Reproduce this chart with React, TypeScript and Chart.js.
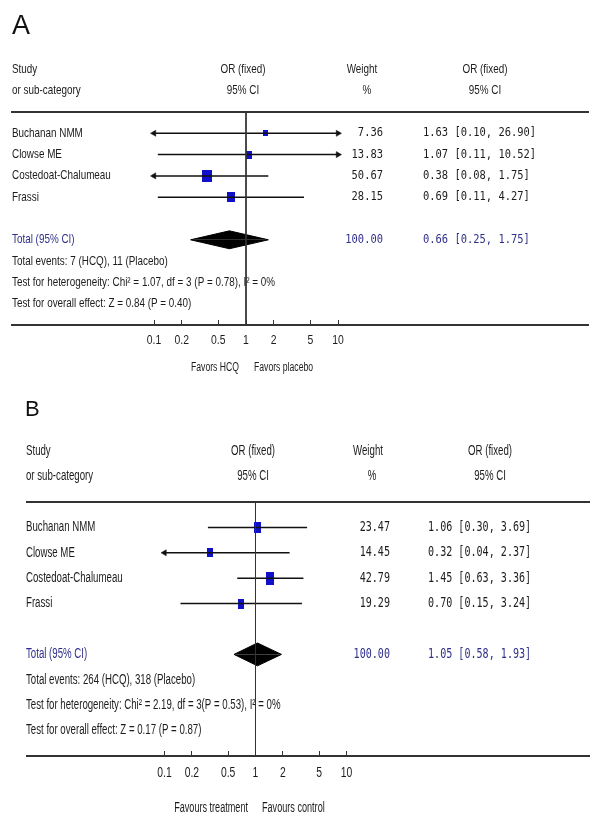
import React, { useEffect, useRef } from "react";
import { Chart, registerables } from "chart.js";

Chart.register(...registerables);

// ---------------- DATA ----------------
const STUDIES = ["Buchanan NMM", "Clowse ME", "Costedoat-Chalumeau", "Frassi"];

const A_OR = [1.63, 1.07, 0.38, 0.69];
const A_LO = [0.1, 0.11, 0.08, 0.11];
const A_HI = [26.9, 10.52, 1.75, 4.27];
const A_WEIGHT = [7.36, 13.83, 50.67, 28.15];
const A_TOTAL = [0.66, 0.25, 1.75]; // estimate, lower, upper
const A_TOTAL_WEIGHT = 100.0;
const A_EVENTS = "Total events: 7 (HCQ), 11 (Placebo)";
const A_HET = "Test for heterogeneity: Chi\u00B2 = 1.07, df = 3 (P = 0.78), I\u00B2 = 0%";
const A_OVERALL = "Test for overall effect: Z = 0.84 (P = 0.40)";
const A_FAVORS = ["Favors HCQ", "Favors placebo"];

const B_OR = [1.06, 0.32, 1.45, 0.7];
const B_LO = [0.3, 0.04, 0.63, 0.15];
const B_HI = [3.69, 2.37, 3.36, 3.24];
const B_WEIGHT = [23.47, 14.45, 42.79, 19.29];
const B_TOTAL = [1.05, 0.58, 1.93];
const B_TOTAL_WEIGHT = 100.0;
const B_EVENTS = "Total events: 264 (HCQ), 318 (Placebo)";
const B_HET = "Test for heterogeneity: Chi\u00B2 = 2.19, df = 3(P = 0.53), I\u00B2 = 0%";
const B_OVERALL = "Test for overall effect: Z = 0.17 (P = 0.87)";
const B_FAVORS = ["Favours treatment", "Favours control"];

const TICKS = [0.1, 0.2, 0.5, 1, 2, 5, 10];
const TICK_LABELS = ["0.1", "0.2", "0.5", "1", "2", "5", "10"];
const AXIS_LO = 0.1;
const AXIS_HI = 10;

const HEADER_LEFT = ["Study", "or sub-category"];
const HEADER_OR = ["OR (fixed)", "95% CI"];
const HEADER_W = ["Weight", "%"];
const TOTAL_LABEL = "Total (95% CI)";

// ---------------- STYLE ----------------
const SANS = '"Liberation Sans", Arial, sans-serif';
const MONO = '"DejaVu Sans Mono", "Liberation Mono", monospace';
const TEXT = "#1c1c1c";
const BLUE_TEXT = "#30308c";
const SQUARE = "#1010c8";
const LINE = "#111";

const TOTAL_ROW = 5;

type Spec = {
  letter: string;
  top: number;
  height: number;
  left: number;
  right: number;
  one: number;
  decade: number;
  padTop: number;
  axisH: number;
  padBottom: number;
  or: number[];
  lo: number[];
  hi: number[];
  weight: number[];
  total: number[];
  totalWeight: number;
  events: string;
  het: string;
  overall: string;
  favors: string[];
  letterX: number;
  letterY: number;
  letterSize: number;
  labelX: number;
  orC: number;
  wC: number;
  pctC: number;
  ciC: number;
  wRight: number;
  ciLeft: number;
  sansSize: number;
  sansSX: number;
  monoSize: number;
  monoSX: number;
  tickDY: number;
  tickSize: number;
  tickSX: number;
  favDY: number;
  favSize: number;
  favSX: number;
  favRight: number;
  favLeft: number;
  sqBase: number;
  sqK: number;
  sqAspect: number;
  diamondH: number;
};

const SPEC_A: Spec = {
  letter: "A",
  top: 0,
  height: 380,
  left: 12,
  right: 588,
  one: 246,
  decade: 92,
  padTop: 112,
  axisH: 40,
  padBottom: 15,
  or: A_OR,
  lo: A_LO,
  hi: A_HI,
  weight: A_WEIGHT,
  total: A_TOTAL,
  totalWeight: A_TOTAL_WEIGHT,
  events: A_EVENTS,
  het: A_HET,
  overall: A_OVERALL,
  favors: A_FAVORS,
  letterX: 12,
  letterY: 27,
  letterSize: 27,
  labelX: 12,
  orC: 243,
  wC: 362,
  pctC: 367,
  ciC: 485,
  wRight: 383,
  ciLeft: 423,
  sansSize: 13,
  sansSX: 0.76,
  monoSize: 12,
  monoSX: 0.87,
  tickDY: 15,
  tickSize: 13,
  tickSX: 0.8,
  favDY: 43,
  favSize: 12,
  favSX: 0.72,
  favRight: 239,
  favLeft: 254,
  sqBase: 2.2,
  sqK: 1.05,
  sqAspect: 1.25,
  diamondH: 0.42,
};

const SPEC_B: Spec = {
  letter: "B",
  top: 380,
  height: 439,
  left: 27,
  right: 589,
  one: 255.5,
  decade: 91,
  padTop: 122,
  axisH: 50,
  padBottom: 13,
  or: B_OR,
  lo: B_LO,
  hi: B_HI,
  weight: B_WEIGHT,
  total: B_TOTAL,
  totalWeight: B_TOTAL_WEIGHT,
  events: B_EVENTS,
  het: B_HET,
  overall: B_OVERALL,
  favors: B_FAVORS,
  letterX: 25,
  letterY: 30,
  letterSize: 22,
  labelX: 26,
  orC: 253,
  wC: 368,
  pctC: 372,
  ciC: 490,
  wRight: 390,
  ciLeft: 428,
  sansSize: 14,
  sansSX: 0.69,
  monoSize: 14,
  monoSX: 0.72,
  tickDY: 17,
  tickSize: 14,
  tickSX: 0.74,
  favDY: 52,
  favSize: 14,
  favSX: 0.65,
  favRight: 248,
  favLeft: 262,
  sqBase: 2,
  sqK: 0.95,
  sqAspect: 1.6,
  diamondH: 0.45,
};

function makeSquare(w: number, h: number, color: string) {
  const c = document.createElement("canvas");
  c.width = Math.max(2, Math.round(w));
  c.height = Math.max(2, Math.round(h));
  const g = c.getContext("2d")!;
  g.fillStyle = color;
  g.fillRect(0, 0, c.width, c.height);
  return c;
}

function drawText(
  ctx: CanvasRenderingContext2D,
  s: string,
  x: number,
  y: number,
  size: number,
  family: string,
  sx: number,
  align: CanvasTextAlign,
  color: string
) {
  ctx.save();
  ctx.font = `${size}px ${family}`;
  ctx.fillStyle = color;
  ctx.textBaseline = "middle";
  ctx.textAlign = align;
  ctx.translate(x, y);
  ctx.scale(sx, 1);
  ctx.fillText(s, 0, 0);
  ctx.restore();
}

const fmtCI = (o: number, l: number, h: number) =>
  `${o.toFixed(2)} [${l.toFixed(2)}, ${h.toFixed(2)}]`;

function buildConfig(p: Spec): any {
  const xmin = Math.pow(10, (p.left - p.one) / p.decade);
  const xmax = Math.pow(10, (p.right - p.one) / p.decade);
  const datasets: any[] = [];

  // line of no effect
  datasets.push({
    data: [
      { x: 1, y: -1 },
      { x: 1, y: 9 },
    ],
    showLine: true,
    borderColor: "#333",
    borderWidth: 1,
    pointRadius: 0,
    fill: false,
  });

  // confidence intervals
  p.lo.forEach((lo, i) => {
    datasets.push({
      data: [
        { x: Math.max(lo, AXIS_LO), y: i },
        { x: Math.min(p.hi[i], AXIS_HI), y: i },
      ],
      showLine: true,
      borderColor: LINE,
      borderWidth: 1.5,
      pointRadius: 0,
      fill: false,
    });
  });

  // arrows for intervals beyond the axis
  const arrowPts: any[] = [];
  const arrowRot: number[] = [];
  p.lo.forEach((lo, i) => {
    if (lo <= AXIS_LO) {
      arrowPts.push({ x: AXIS_LO, y: i });
      arrowRot.push(-90);
    }
    if (p.hi[i] >= AXIS_HI) {
      arrowPts.push({ x: AXIS_HI, y: i });
      arrowRot.push(90);
    }
  });
  datasets.push({
    data: arrowPts,
    showLine: false,
    pointStyle: "triangle",
    pointRotation: arrowRot,
    pointRadius: 3.5,
    pointBackgroundColor: LINE,
    pointBorderColor: LINE,
    pointBorderWidth: 0.5,
  });

  // study squares
  datasets.push({
    data: p.or.map((v, i) => ({ x: v, y: i })),
    showLine: false,
    pointStyle: p.weight.map((w) => {
      const side = p.sqBase + p.sqK * Math.sqrt(w);
      return makeSquare(side, side * p.sqAspect, SQUARE);
    }),
    pointRadius: 5,
  });

  // pooled diamond (upper and lower halves)
  const [est, tlo, thi] = p.total;
  [-p.diamondH, p.diamondH].forEach((d) => {
    datasets.push({
      data: [
        { x: tlo, y: TOTAL_ROW },
        { x: est, y: TOTAL_ROW + d },
        { x: thi, y: TOTAL_ROW },
      ],
      showLine: true,
      borderColor: "#000",
      borderWidth: 1,
      backgroundColor: "#000",
      pointRadius: 0,
      tension: 0,
      fill: { value: TOTAL_ROW },
    });
  });

  const textPlugin = {
    id: "forestText" + p.letter,
    afterDraw(chart: any) {
      const ctx: CanvasRenderingContext2D = chart.ctx;
      const ys = chart.scales.y;
      const xs = chart.scales.x;
      const Y = (r: number) => ys.getPixelForValue(r);
      const S = (s: string, x: number, r: number, align: CanvasTextAlign, color = TEXT) =>
        drawText(ctx, s, x, Y(r), p.sansSize, SANS, p.sansSX, align, color);
      const M = (s: string, x: number, r: number, align: CanvasTextAlign, color = TEXT) =>
        drawText(ctx, s, x, Y(r), p.monoSize, MONO, p.monoSX, align, color);

      drawText(ctx, p.letter, p.letterX, p.letterY, p.letterSize, SANS, 1, "left", "#111");

      HEADER_LEFT.forEach((h, k) => S(h, p.labelX, -3 + k, "left"));
      HEADER_OR.forEach((h, k) => S(h, p.orC, -3 + k, "center"));
      S(HEADER_W[0], p.wC, -3, "center");
      S(HEADER_W[1], p.pctC, -2, "center");
      HEADER_OR.forEach((h, k) => S(h, p.ciC, -3 + k, "center"));

      STUDIES.forEach((name, i) => {
        S(name, p.labelX, i, "left");
        M(p.weight[i].toFixed(2), p.wRight, i, "right");
        M(fmtCI(p.or[i], p.lo[i], p.hi[i]), p.ciLeft, i, "left");
      });

      S(TOTAL_LABEL, p.labelX, TOTAL_ROW, "left", BLUE_TEXT);
      M(p.totalWeight.toFixed(2), p.wRight, TOTAL_ROW, "right", BLUE_TEXT);
      M(fmtCI(p.total[0], p.total[1], p.total[2]), p.ciLeft, TOTAL_ROW, "left", BLUE_TEXT);

      S(p.events, p.labelX, 6, "left");
      S(p.het, p.labelX, 7, "left");
      S(p.overall, p.labelX, 8, "left");

      const axisY = chart.chartArea.bottom;
      TICKS.forEach((t, k) => {
        drawText(ctx, TICK_LABELS[k], xs.getPixelForValue(t), axisY + p.tickDY, p.tickSize, SANS, p.tickSX, "center", TEXT);
      });

      drawText(ctx, p.favors[0], p.favRight, axisY + p.favDY, p.favSize, SANS, p.favSX, "right", TEXT);
      drawText(ctx, p.favors[1], p.favLeft, axisY + p.favDY, p.favSize, SANS, p.favSX, "left", TEXT);
    },
  };

  return {
    type: "line",
    data: { datasets },
    plugins: [textPlugin],
    options: {
      responsive: false,
      animation: false,
      events: [],
      layout: {
        padding: { top: p.padTop, left: p.left, right: 600 - p.right, bottom: p.padBottom },
      },
      plugins: { legend: { display: false }, tooltip: { enabled: false } },
      scales: {
        x: {
          type: "logarithmic",
          position: "bottom",
          min: xmin,
          max: xmax,
          afterBuildTicks: (s: any) => {
            s.ticks = TICKS.map((v) => ({ value: v }));
          },
          ticks: { display: false },
          grid: { drawOnChartArea: false, drawTicks: true, tickLength: -5, color: "#333", lineWidth: 1 },
          border: { display: true, color: "#333", width: 2 },
          afterFit: (s: any) => {
            s.height = p.axisH;
          },
        },
        x2: {
          type: "linear",
          position: "top",
          display: true,
          ticks: { display: false },
          grid: { display: false },
          border: { display: true, color: "#333", width: 2 },
          afterFit: (s: any) => {
            s.height = 0;
          },
        },
        y: { type: "linear", display: false, min: -1, max: 9, reverse: true },
      },
    },
  };
}

function Panel({ spec }: { spec: Spec }) {
  const ref = useRef<HTMLCanvasElement | null>(null);
  useEffect(() => {
    if (!ref.current) return;
    const chart = new Chart(ref.current, buildConfig(spec));
    return () => chart.destroy();
  }, [spec]);
  return (
    <canvas
      ref={ref}
      width={600}
      height={spec.height}
      style={{ position: "absolute", left: 0, top: spec.top, width: 600, height: spec.height, display: "block" }}
    />
  );
}

export default function App() {
  return (
    <div style={{ position: "absolute", left: 0, top: 0, width: 600, height: 819, background: "#fff" }}>
      <Panel spec={SPEC_A} />
      <Panel spec={SPEC_B} />
    </div>
  );
}
